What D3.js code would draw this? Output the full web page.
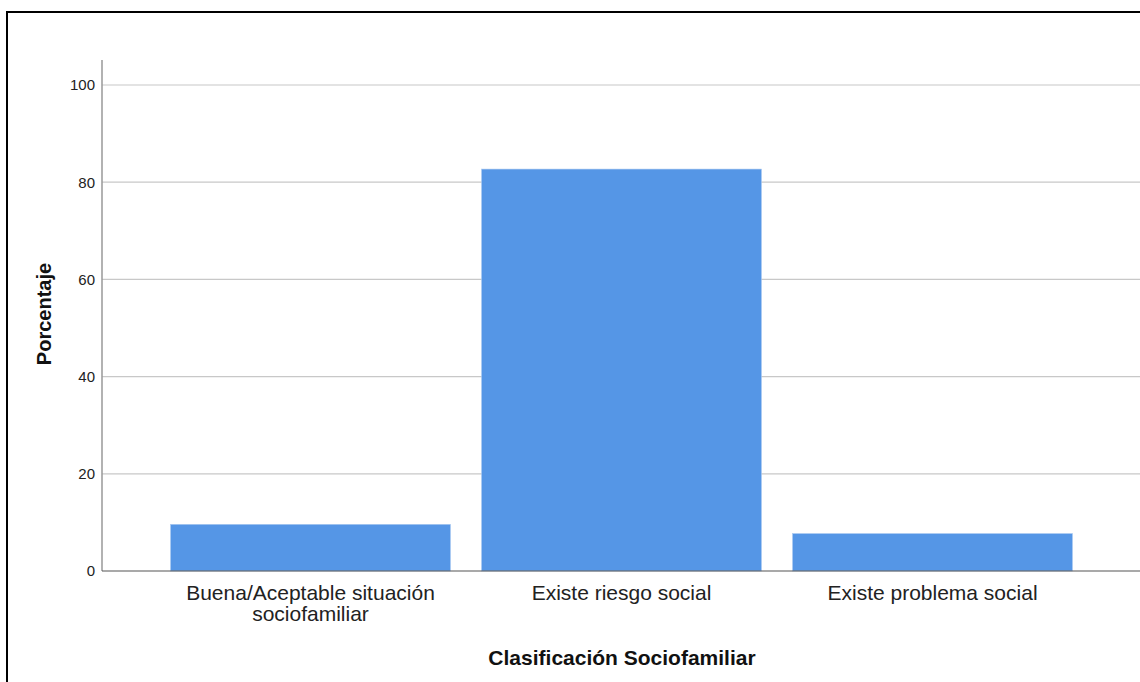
<!DOCTYPE html>
<html>
<head>
<meta charset="utf-8">
<script src="https://cdn.jsdelivr.net/npm/d3@7"></script>
<style>
  body { margin: 0; background: #fff; }
  svg { display: block; font-family: "Liberation Sans", Arial, sans-serif; }
</style>
</head>
<body>
<svg id="chart"></svg>
<script>
var categories = [["Buena/Aceptable situación", "sociofamiliar"], ["Existe riesgo social"], ["Existe problema social"]];
var percents = [9.6, 82.7, 7.7];
var yTicks = [0, 20, 40, 60, 80, 100];

var width = 1140;
var height = 682;

var svg = d3.select("#chart")
    .attr("width", width)
    .attr("height", height);

// frame round the chart
svg.append("rect")
    .attr("x", 7).attr("y", 12)
    .attr("width", width + 10).attr("height", height + 10)
    .attr("fill", "none")
    .attr("stroke", "#000")
    .attr("stroke-width", 2);

var x = d3.scaleBand()
    .domain(d3.range(categories.length))
    .range([155, 1088])
    .paddingInner(0.1)
    .paddingOuter(0.05);

var y = d3.scaleLinear()
    .domain([0, 100])
    .range([571, 85]);

// grid lines
svg.append("g")
    .selectAll("line")
    .data(yTicks.filter(d => d > 0))
    .join("line")
        .attr("x1", 102).attr("x2", width)
        .attr("y1", d => y(d)).attr("y2", d => y(d))
        .attr("stroke", "#c8c8c8")
        .attr("stroke-width", 1.2);

// bars
svg.append("g")
    .selectAll("rect")
    .data(percents)
    .join("rect")
        .attr("x", (d, i) => x(i))
        .attr("y", d => y(d))
        .attr("width", x.bandwidth())
        .attr("height", d => y(0) - y(d))
        .attr("fill", "#5596e6")
        .attr("stroke", "#a9c8f0")
        .attr("stroke-width", 0.6);

// y axis
var yAxis = svg.append("g")
    .attr("transform", "translate(102,0)")
    .call(d3.axisLeft(y).tickValues(yTicks).tickSize(0).tickPadding(7));
yAxis.select(".domain").remove();
yAxis.selectAll("text")
    .style("font-size", "15px")
    .attr("fill", "#222");

svg.append("line")
    .attr("x1", 102).attr("x2", 102)
    .attr("y1", 60).attr("y2", 571)
    .attr("stroke", "#999")
    .attr("stroke-width", 1.5);

// x axis line
svg.append("line")
    .attr("x1", 102).attr("x2", width)
    .attr("y1", 571).attr("y2", 571)
    .attr("stroke", "#555")
    .attr("stroke-width", 1.2);

// category labels
var catLabel = svg.append("g")
    .selectAll("text")
    .data(categories)
    .join("text")
        .attr("x", (d, i) => x(i) + x.bandwidth() / 2)
        .attr("y", 600)
        .attr("text-anchor", "middle")
        .style("font-size", "21px")
        .attr("fill", "#222");

catLabel.selectAll("tspan")
    .data(d => d)
    .join("tspan")
        .attr("x", function() { return this.parentNode.getAttribute("x"); })
        .attr("dy", (d, i) => i === 0 ? 0 : 21)
        .text(d => d);

// axis titles
svg.append("text")
    .attr("x", 622)
    .attr("y", 665)
    .attr("text-anchor", "middle")
    .style("font-size", "21px")
    .style("font-weight", "bold")
    .attr("fill", "#111")
    .text("Clasificación Sociofamiliar");

svg.append("text")
    .attr("transform", "translate(51,314) rotate(-90)")
    .attr("text-anchor", "middle")
    .style("font-size", "20px")
    .style("font-weight", "bold")
    .attr("fill", "#111")
    .text("Porcentaje");
</script>
</body>
</html>
